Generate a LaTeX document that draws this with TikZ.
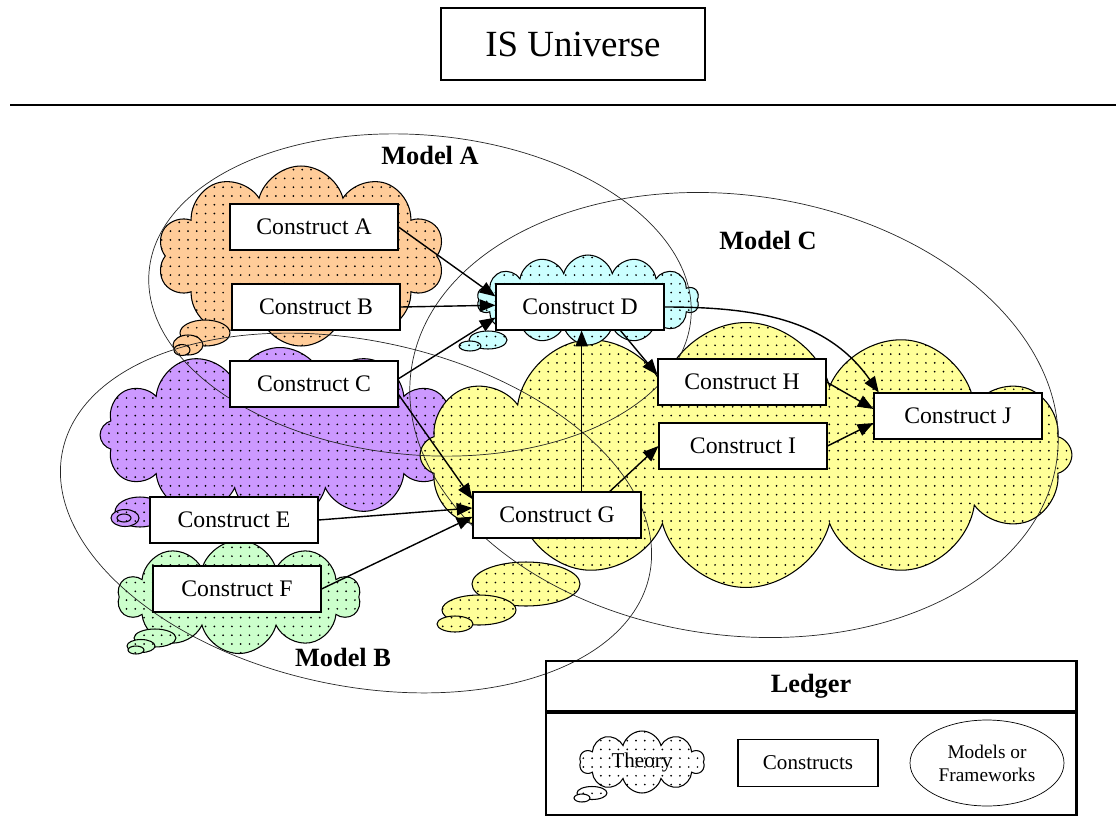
\documentclass[tikz,border=0pt]{standalone}
\usepackage{fontspec}
\setmainfont{Liberation Serif}
\usetikzlibrary{shapes.symbols, shapes.geometric, patterns, arrows.meta, positioning}

\pgfdeclarepatternformonly{thdots}{\pgfqpoint{-1pt}{-1pt}}{\pgfqpoint{6pt}{6pt}}{\pgfqpoint{5pt}{5pt}}{%
  \pgfpathcircle{\pgfqpoint{2pt}{2pt}}{0.55pt}\pgfusepath{fill}}

\definecolor{thorange}{RGB}{255,204,153}
\definecolor{thcyan}{RGB}{204,255,255}
\definecolor{thpurple}{RGB}{204,153,255}
\definecolor{thgreen}{RGB}{204,255,204}
\definecolor{thyellow}{RGB}{255,255,153}

\begin{document}
\begin{tikzpicture}[
  x=0.02cm, y=-0.02cm,
  every node/.style={inner sep=0pt},
  construct/.style={draw, semithick, fill=white, minimum width=3.36cm, minimum height=0.92cm, font=\fontsize{13.5}{16}\selectfont},
  theory/.style={cloud, cloud puffs=#1, cloud ignores aspect, draw, semithick, postaction={pattern=thdots}},
  tail/.style={draw, semithick, postaction={pattern=thdots}},
  model/.style={draw, black!85},
  modellabel/.style={font=\fontsize{15}{18}\selectfont\bfseries},
  link/.style={draw, thick, -{Triangle[length=9pt,width=7pt]}}
]
\useasboundingbox (0,0) rectangle (1116,832);

% title and border line
\node[draw, thick, minimum width=5.28cm, minimum height=1.44cm, font=\fontsize{21}{25}\selectfont] (title) at (573,44) {IS Universe};
\draw[line width=1.2pt] (10,105) -- (1116,105);

% theories (clouds)
\node[theory=10, fill=thorange, minimum width=5.74cm, minimum height=3.6cm] (tha) at (301,256) {};
\foreach \cx/\cy/\rx/\ry in {205/333/0.5/0.26, 188/345/0.3/0.2, 182/350/0.16/0.11}
  \draw[tail, fill=thorange] (\cx,\cy) ellipse [x radius=\rx cm, y radius=\ry cm];
\node[theory=12, fill=thpurple, minimum width=7.2cm, minimum height=3.5cm] (thc) at (280,435) {};
\foreach \cx/\cy/\rx/\ry in {140/512/0.5/0.3, 125/518/0.28/0.17, 124/518/0.14/0.08}
  \draw[tail, fill=thpurple] (\cx,\cy) ellipse [x radius=\rx cm, y radius=\ry cm];
\node[theory=10, fill=thgreen, minimum width=4.84cm, minimum height=2.26cm] (thf) at (239,597) {};
\foreach \cx/\cy/\rx/\ry in {155/638/0.42/0.18, 141/646/0.28/0.13, 136/650/0.16/0.08}
  \draw[tail, fill=thgreen] (\cx,\cy) ellipse [x radius=\rx cm, y radius=\ry cm];
\node[theory=12, fill=thyellow, minimum width=13.04cm, minimum height=5.3cm] (thg) at (746,455) {};
\foreach \cx/\cy/\rx/\ry in {526/584/1.08/0.44, 479/610/0.74/0.3, 455/624/0.36/0.16}
  \draw[tail, fill=thyellow] (\cx,\cy) ellipse [x radius=\rx cm, y radius=\ry cm];
\node[theory=14, fill=thcyan, minimum width=4.44cm, minimum height=1.8cm] (thd) at (588,300) {};
\foreach \cx/\cy/\rx/\ry in {488/340/0.38/0.18, 470/346/0.22/0.1}
  \draw[tail, fill=thcyan] (\cx,\cy) ellipse [x radius=\rx cm, y radius=\ry cm];

% models
\draw[model, rotate around={-5:(420,295)}] (420,295) ellipse [x radius=5.44cm, y radius=3.2cm];
\draw[model, rotate around={-12:(356,513)}] (356,513) ellipse [x radius=6cm, y radius=3.45cm];
\draw[model, rotate around={-8:(734,415)}] (734,415) ellipse [x radius=6.52cm, y radius=4.4cm];
\node[modellabel] (mA) at (430,155) {Model A};
\node[modellabel] (mB) at (343,657) {Model B};
\node[modellabel] (mC) at (768,240) {Model C};

% constructs
\node[construct] (ca) at (314,227) {Construct A};
\node[construct] (cb) at (316,307) {Construct B};
\node[construct] (cc) at (314,384) {Construct C};
\node[construct] (cd) at (580,307) {Construct D};
\node[construct] (ce) at (234,520) {Construct E};
\node[construct] (cf) at (237,589) {Construct F};
\node[construct] (cg) at (557,515) {Construct G};
\node[construct] (ch) at (742,382) {Construct H};
\node[construct] (ci) at (743,446) {Construct I};
\node[construct] (cj) at (958,416) {Construct J};

% links
\draw[link] (ca.east) -- ([yshift=6pt]cd.west);
\draw[link] (cb.east) -- ([yshift=1pt]cd.west);
\draw[link] ([yshift=3pt]cc.east) -- ([yshift=-6pt]cd.west);
\draw[link] ([yshift=-6pt]cc.east) -- ([yshift=9pt]cg.west);
\draw[link] (ce.east) -- ([yshift=4pt]cg.west);
\draw[link] (cf.east) -- ([yshift=-1pt]cg.west);
\draw[link] ([xshift=14pt]cg.north) -- ([xshift=14pt]cg.north |- cd.south);
\draw[link] ([xshift=30pt]cg.north) -- (ci.west);
\draw[link] ([xshift=23pt]cd.south) -- ([yshift=4pt]ch.west);
\draw[link] (cd.east) to[out=0, in=125] ([xshift=3pt]cj.north west);
\draw[link] (ch.east) -- ([yshift=4pt]cj.west);
\draw[link] (ci.east) -- ([yshift=-4pt]cj.west);

% ledger
\node[draw, line width=1.2pt, minimum width=10.62cm, minimum height=1cm, font=\fontsize{15}{18}\selectfont\bfseries] (ledger) at (811,686) {Ledger};
\node[draw, line width=1.2pt, minimum width=10.62cm, minimum height=2.04cm, below=0pt of ledger] (ledgerbody) {};
\node[theory=10, fill=white, minimum width=2.5cm, minimum height=1.24cm, font=\fontsize{12}{14}\selectfont] (lgtheory) at (642,762) {Theory};
\foreach \cx/\cy/\rx/\ry in {592/793/0.3/0.13, 582/798/0.16/0.08}
  \draw[tail, fill=white] (\cx,\cy) ellipse [x radius=\rx cm, y radius=\ry cm];
\node[draw, semithick, minimum width=2.8cm, minimum height=0.94cm, font=\fontsize{12}{14}\selectfont] (lgconstruct) at (808,763) {Constructs};
\node[ellipse, draw, minimum width=3.08cm, minimum height=1.72cm, align=center, font=\fontsize{11}{13}\selectfont] (lgmodel) at (987,763) {Models or\\Frameworks};
\end{tikzpicture}
\end{document}
